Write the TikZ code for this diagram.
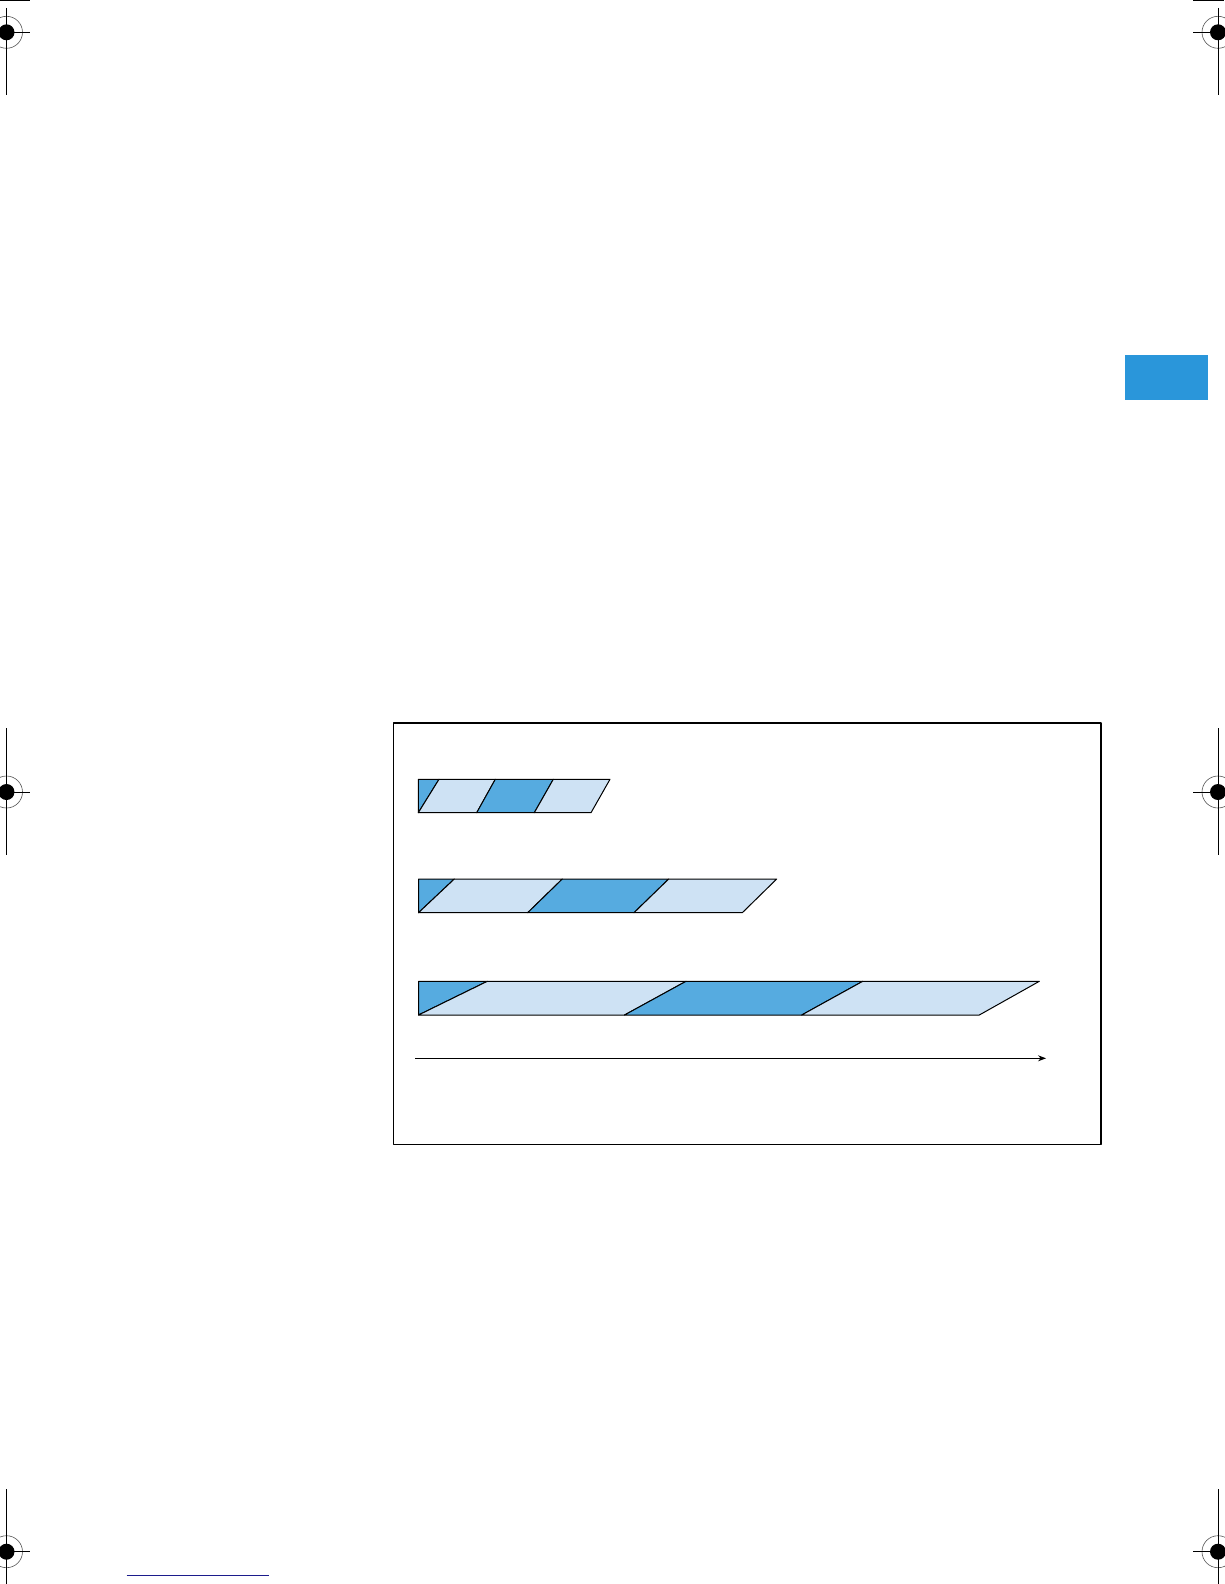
\documentclass[tikz,border=0pt]{standalone}
\usepackage{xcolor}
\usetikzlibrary{arrows.meta}
\definecolor{bardark}{HTML}{56ABE0}
\definecolor{barlight}{HTML}{CEE2F4}
\definecolor{tabblue}{HTML}{2A96DA}
\definecolor{rulenavy}{HTML}{1C1C8C}
\definecolor{markgray}{HTML}{555555}

\begin{document}
\begin{tikzpicture}[x=1pt, y=-1pt, line width=1pt, >=Stealth, line join=round]
  \useasboundingbox (0,0) rectangle (1224,1584);

  % crop marks
  \foreach \cx/\cy/\ya/\yb/\xa/\xb in {6.5/32.3/8/95/0/30, 1218/32.3/8/95/1193/1224,
      6.5/792/728/855/0/30, 1218/792/728/855/1193/1224,
      6.5/1551.7/1489/1584/0/30, 1218/1551.7/1489/1584/1193/1224}{
    \draw[markgray, line width=0.6pt] (\cx,\cy) circle (16);
    \fill (\cx,\cy) circle (8);
    \draw[line width=0.9pt] (\cx,\ya) -- (\cx,\yb);
    \draw[line width=0.9pt] (\xa,\cy) -- (\xb,\cy);
  }
  \draw[line width=0.9pt] (0,0.5) -- (30,0.5);
  \draw[line width=0.9pt] (1193,0.5) -- (1224,0.5);

  % chapter tab and footer rule
  \fill[tabblue] (1125,355) rectangle (1207.7,400);
  \draw[rulenavy] (126.7,1575.3) -- (269,1575.3);

  % frame
  \draw[line width=1.5pt] (393.6,723) rectangle (1101,1144.5);

  % bars: bottom left/right, top left/right, fill
  \foreach \a/\b/\c/\d/\col in {418.3/418.3/418.3/439/bardark, 418.3/476.7/439/495.3/barlight,
      476.7/534.3/495.3/553.3/bardark, 534.3/591/553.3/610/barlight}{
    \filldraw[fill=\col] (\a,812.7) -- (\b,812.7) -- (\d,779.3) -- (\c,779.3) -- cycle;
  }
  \foreach \a/\b/\c/\d/\col in {418.5/418.5/418.5/454.3/bardark, 418.5/527.7/454.3/562.3/barlight,
      527.7/634/562.3/668.7/bardark, 634/742.3/668.7/776.7/barlight}{
    \filldraw[fill=\col] (\a,912.7) -- (\b,912.7) -- (\d,879) -- (\c,879) -- cycle;
  }
  \foreach \a/\b/\c/\d/\col in {418.5/418.5/418.5/487.3/bardark, 418.5/624.5/487.3/686/barlight,
      624.5/801.7/686/862.7/bardark, 801.7/979.3/862.7/1039.3/barlight}{
    \filldraw[fill=\col] (\a,1015) -- (\b,1015) -- (\d,981.3) -- (\c,981.3) -- cycle;
  }

  % time axis
  \coordinate (axisstart) at (415,1058.3);
  \coordinate (axisend) at (1046,1058.3);
  \draw[->, line width=1.1pt] (axisstart) -- (axisend);
\end{tikzpicture}
\end{document}
